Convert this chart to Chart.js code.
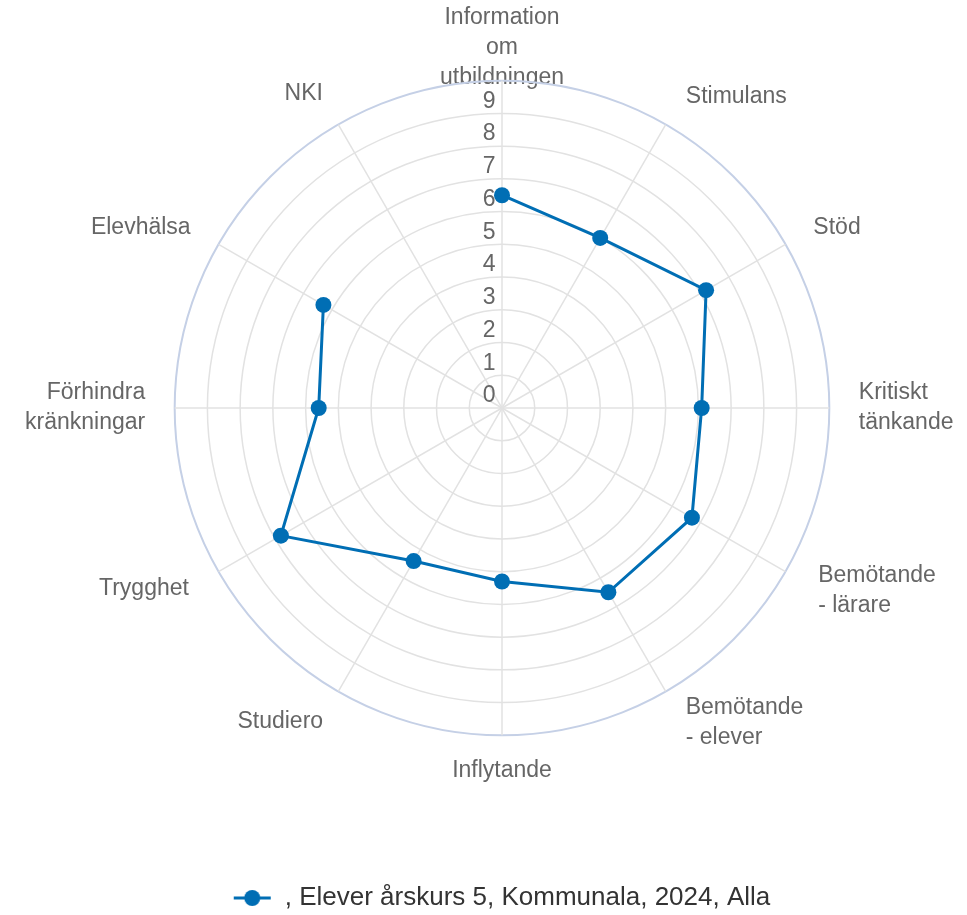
<!DOCTYPE html>
<html lang="sv">
<head>
<meta charset="utf-8">
<title>Elever årskurs 5</title>
<script src="https://cdn.jsdelivr.net/npm/chart.js@4"></script>
<style>
  html, body { margin: 0; padding: 0; background: #fff; }
  #wrap { width: 967px; height: 915px; }
</style>
</head>
<body>
<div id="wrap"><canvas id="radar" width="967" height="915"></canvas></div>
<script>
const categories = [
  ['Information', 'om', 'utbildningen'],
  'Stimulans',
  'Stöd',
  ['Kritiskt', 'tänkande'],
  ['Bemötande', '- lärare'],
  ['Bemötande', '- elever'],
  'Inflytande',
  'Studiero',
  'Trygghet',
  ['Förhindra', 'kränkningar'],
  'Elevhälsa',
  'NKI'
];
const seriesName = ', Elever årskurs 5, Kommunala, 2024, Alla';
const values = [6.5, 6.0, 7.2, 6.1, 6.7, 6.5, 5.3, 5.4, 7.8, 5.6, 6.3, null];
const tickLabels = ['0', '1', '2', '3', '4', '5', '6', '7', '8', '9'];

const lineColor = '#006eb4';
const textGray = '#666666';

// nudges for the point labels: radial gap, spaces added before (+) or after (-),
// and blank lines appended (they only feed the layout fit)
const labelGap = [-23, 3.2, -8.8, 18, -32.8, -9.8, 9.2, 6.2, -6.8, 18, -8.8, 6.5];
const labelShift = [0, 2, 4, 0, 8, 3, 0, -1, -4, 0, -4, -1];
const labelBlank = [0, 0, 0, 0, 0, 2, 0, 0, 0, 0, 0, 0];

Chart.defaults.font.family = "'Liberation Sans', Arial, sans-serif";

// legend marker: line with a dot, left part kept empty to move the item right
const marker = document.createElement('canvas');
marker.width = 62;
marker.height = 20;
const mctx = marker.getContext('2d');
mctx.strokeStyle = lineColor;
mctx.lineWidth = 3;
mctx.beginPath();
mctx.moveTo(24, 10);
mctx.lineTo(61, 10);
mctx.stroke();
mctx.fillStyle = lineColor;
mctx.beginPath();
mctx.arc(42.5, 10, 8, 0, Math.PI * 2);
mctx.fill();

const chart = new Chart(document.getElementById('radar').getContext('2d'), {
    type: 'radar',
    data: {
        labels: categories,
        datasets: [{
            label: seriesName,
            data: values,
            borderColor: lineColor,
            backgroundColor: lineColor,
            borderWidth: 3,
            fill: false,
            spanGaps: false,
            pointRadius: 8,
            pointHoverRadius: 8,
            pointBackgroundColor: lineColor,
            pointBorderColor: lineColor,
            pointBorderWidth: 0,
        }],
    },
    options: {
        responsive: false,
        animation: false,
        layout: {
            padding: { top: 0, bottom: -6, left: 13, right: 0 },
        },
        scales: {
            r: {
                min: 0,
                max: 10,
                ticks: {
                    stepSize: 1,
                    color: textGray,
                    font: { size: 23, lineHeight: '20.7px' },
                    showLabelBackdrop: false,
                    backdropPadding: 0,
                    callback: function(value, index) {
                        if (index === 0) return '';
                        return ['', tickLabels[index - 1] + '    '];
                    },
                },
                grid: {
                    circular: true,
                    color: function(ctx) {
                        return ctx.tick && ctx.tick.value === 10 ? '#c5d0e6' : '#e2e2e2';
                    },
                    lineWidth: function(ctx) {
                        return ctx.tick && ctx.tick.value === 10 ? 2 : 1.5;
                    },
                },
                angleLines: {
                    color: '#e2e2e2',
                    lineWidth: 1.5,
                },
                pointLabels: {
                    color: textGray,
                    font: { size: 23, lineHeight: '30px' },
                    padding: function(ctx) {
                        return labelGap[ctx.index];
                    },
                    callback: function(label, index) {
                        const lines = Array.isArray(label) ? label.slice() : [label];
                        const n = labelShift[index];
                        const sp = ' '.repeat(Math.abs(n));
                        const out = lines.map(l => n > 0 ? sp + l : l + sp);
                        for (let k = 0; k < labelBlank[index]; k++) out.push('');
                        return out;
                    },
                },
            },
        },
        plugins: {
            legend: {
                position: 'bottom',
                labels: {
                    usePointStyle: true,
                    pointStyle: marker,
                    pointStyleWidth: 62,
                    color: '#333333',
                    font: { size: 26 },
                    padding: 68,
                },
            },
            tooltip: { enabled: false },
        },
    },
});
</script>
</body>
</html>
